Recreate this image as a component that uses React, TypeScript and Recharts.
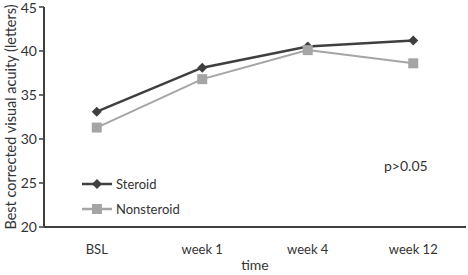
import React from 'react'
import { LineChart, Line, XAxis, YAxis } from 'recharts'

const timepoints = ['BSL', 'week 1', 'week 4', 'week 12']
const steroid = [33.1, 38.1, 40.5, 41.2]
const nonsteroid = [31.3, 36.8, 40.1, 38.6]
const yTicks = [20, 25, 30, 35, 40, 45]
const boundaryTicks = [0, 1, 2, 3, 4]

const data = timepoints.map((time, i) => ({
  time,
  steroid: steroid[i],
  nonsteroid: nonsteroid[i],
}))

const DARK = '#3f3f3f'
const LIGHT = '#a5a5a5'
const AXIS = '#404040'
const FONT = 'Lato, "Open Sans", sans-serif'

function Diamond(props: any) {
  const { cx, cy } = props
  if (cx == null || cy == null) return null
  const r = 5
  return <path d={`M${cx},${cy - r}L${cx + r},${cy}L${cx},${cy + r}L${cx - r},${cy}Z`} fill={DARK} />
}

function Square(props: any) {
  const { cx, cy } = props
  if (cx == null || cy == null) return null
  return <rect x={cx - 5} y={cy - 5} width={10} height={10} fill={LIGHT} />
}

function LegendBox() {
  const items = [
    { name: 'Steroid', color: DARK, shape: 'diamond' },
    { name: 'Nonsteroid', color: LIGHT, shape: 'square' },
  ]
  return (
    <div style={{ position: 'absolute', left: 82, top: 171, fontFamily: FONT, fontSize: 13, color: '#333' }}>
      {items.map((it) => (
        <div key={it.name} style={{ display: 'flex', alignItems: 'center', height: 25 }}>
          <svg width={32} height={12}>
            <line x1={0} y1={6} x2={30} y2={6} stroke={it.color} strokeWidth={2.5} />
            {it.shape === 'diamond' ? (
              <path d="M15,1L20,6L15,11L10,6Z" fill={it.color} />
            ) : (
              <rect x={10} y={1} width={10} height={10} fill={it.color} />
            )}
          </svg>
          <span style={{ marginLeft: 2 }}>{it.name}</span>
        </div>
      ))}
    </div>
  )
}

export default function App() {
  return (
    <div style={{ position: 'absolute', left: 0, top: 0, width: 468, height: 275, background: '#fff' }}>
      <LineChart width={468} height={275} data={data} margin={{ top: 7, right: 2, bottom: 0, left: 0 }}>
        <XAxis
          xAxisId="edges"
          type="number"
          domain={[0, 4]}
          ticks={boundaryTicks}
          axisLine={false}
          tickLine={{ stroke: AXIS, strokeWidth: 1.5 }}
          tickSize={5}
          tick={false}
          height={0}
        />
        <XAxis
          dataKey="time"
          xAxisId="cat"
          scale="band"
          axisLine={{ stroke: AXIS, strokeWidth: 2 }}
          tickLine={false}
          tickMargin={12}
          height={48}
          tick={{ fontSize: 13, fill: '#333', fontFamily: FONT }}
          label={{ value: 'time', position: 'insideBottom', offset: 5, style: { fontSize: 14, fill: '#333', fontFamily: FONT } }}
        />
        <YAxis
          width={44}
          domain={[20, 45]}
          ticks={yTicks}
          axisLine={{ stroke: AXIS, strokeWidth: 2 }}
          tickLine={{ stroke: AXIS, strokeWidth: 1.5 }}
          tickSize={5}
          tickMargin={2}
          tick={{ fontSize: 14, fill: '#333', fontFamily: FONT }}
          label={{
            value: 'Best corrected visual acuity (letters)',
            angle: -90,
            position: 'insideLeft',
            offset: 11,
            style: { fontSize: 14.5, fill: '#333', fontFamily: FONT, textAnchor: 'middle' },
          }}
        />
        <Line
          xAxisId="cat"
          dataKey="steroid"
          name="Steroid"
          stroke={DARK}
          strokeWidth={2.5}
          dot={<Diamond />}
          activeDot={false}
          isAnimationActive={false}
        />
        <Line
          xAxisId="cat"
          dataKey="nonsteroid"
          name="Nonsteroid"
          stroke={LIGHT}
          strokeWidth={2}
          dot={<Square />}
          activeDot={false}
          isAnimationActive={false}
        />
      </LineChart>
      <LegendBox />
      <div style={{ position: 'absolute', left: 384, top: 157, fontFamily: FONT, fontSize: 14, color: '#333' }}>
        p&gt;0.05
      </div>
    </div>
  )
}
